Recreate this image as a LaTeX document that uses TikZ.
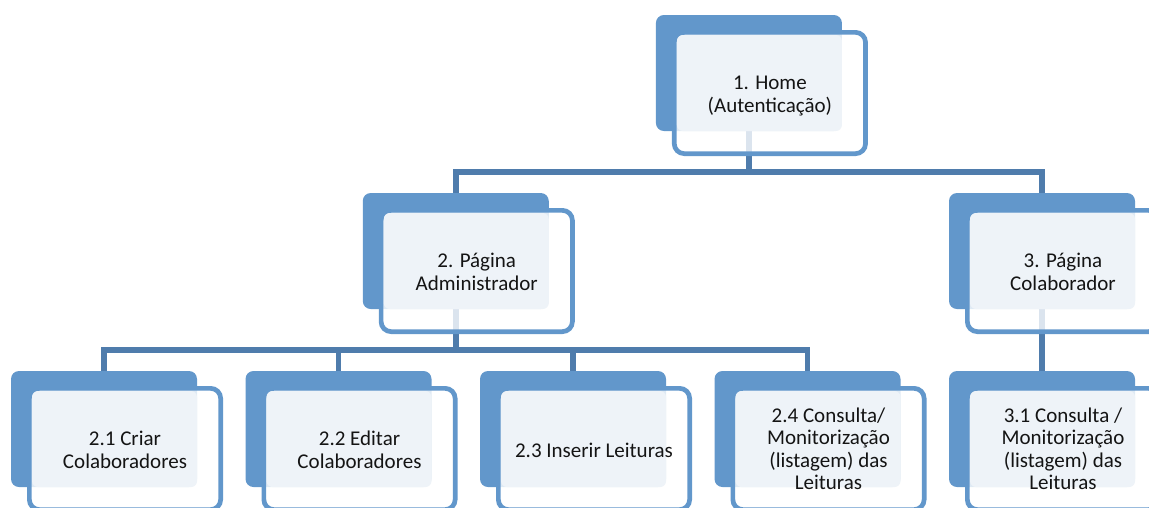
\documentclass[tikz,border=0pt]{standalone}
\usepackage{fontspec}
\setmainfont{Carlito}
\usetikzlibrary{backgrounds}

\definecolor{boxblue}{RGB}{98,151,203}
\definecolor{linkblue}{RGB}{79,124,172}
\definecolor{paneltint}{RGB}{238,243,248}
\definecolor{inktext}{RGB}{20,20,20}

\tikzset{
  backbox/.style={fill=boxblue, rounded corners=8pt, minimum width=186pt,
    minimum height=116pt, inner sep=0pt, outer sep=0pt, anchor=north west},
  framebox/.style={draw=boxblue, line width=4.7pt, fill=white, fill opacity=0.8,
    rounded corners=10pt, minimum width=191.3pt, minimum height=121.3pt,
    inner sep=0pt, outer sep=0pt, anchor=north west},
  panel/.style={fill=paneltint, rounded corners=6pt, minimum width=165pt,
    minimum height=96pt, inner sep=0pt, outer sep=0pt, anchor=north west},
  unittext/.style={text=inktext, align=center,
    font=\fontsize{21}{22.5}\selectfont, inner sep=0pt},
  link/.style={draw=linkblue, line width=5.5pt},
}

% one unit of the chart: solid back card, outlined frame, light text panel;
% optional first argument nudges the text downwards
\newcommand\orgunit[5][0]{%
  \begin{scope}[shift={(#3,#4)}]
    \node[backbox] (#2) at (0,0) {};
    \node[framebox] (#2-frame) at (18.35,17.35) {};
    \node[panel] (#2-panel) at (21,20) {};
    \node[unittext, yshift=-#1pt] (#2-text) at (#2-frame.center) {#5};
  \end{scope}}

\begin{document}
\begin{tikzpicture}[x=1pt, y=-1pt]
  \useasboundingbox (0,0) rectangle (1149,507);
  \clip (0,0) rectangle (1149,507);

  \orgunit[3]{home}{655.9}{15}{1. Home\\(Autenticação)}
  \orgunit[1]{admin}{362.75}{193}{2. Página\\Administrador}
  \orgunit[1]{colab}{949}{193}{3. Página\\Colaborador}

  \orgunit[1]{c21}{11}{371}{2.1 Criar\\Colaboradores}
  \orgunit[1]{c22}{245.5}{371}{2.2 Editar\\Colaboradores}
  \orgunit[1]{c23}{480}{371}{2.3 Inserir Leituras}
  \orgunit{c24}{714.5}{371}{2.4 Consulta/\\Monitorização\\(listagem) das\\Leituras}
  \orgunit{c31}{949}{371}{3.1 Consulta /\\Monitorização\\(listagem) das\\Leituras}

  \begin{pgfonlayer}{background}
    \coordinate (bar1) at (0,172);
    \coordinate (bar2) at (0,350);
    \draw[link] (home.center) -- (home.center |- bar1) -| (admin.north);
    \draw[link] (home.center |- bar1) -| (colab.north);
    \draw[link] (admin.center) -- (admin.center |- bar2) -| (c21.north);
    \draw[link] (admin.center |- bar2) -| (c22.north);
    \draw[link] (admin.center |- bar2) -| (c23.north);
    \draw[link] (admin.center |- bar2) -| (c24.north);
    \draw[link] (colab.center) -- (c31.north);
  \end{pgfonlayer}
\end{tikzpicture}
\end{document}
